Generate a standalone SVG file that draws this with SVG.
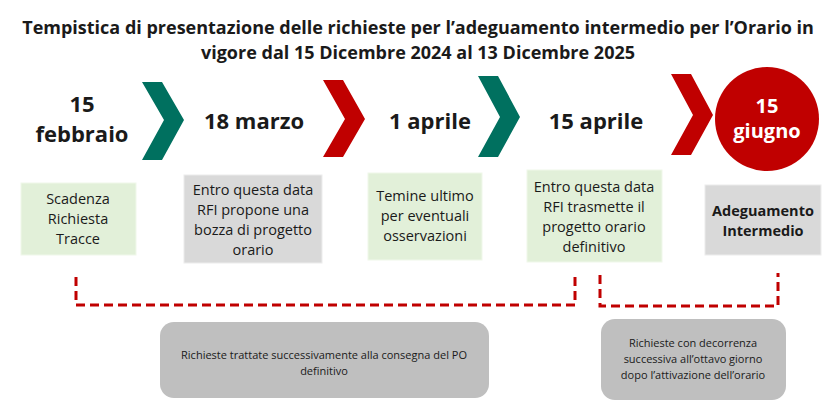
<svg xmlns="http://www.w3.org/2000/svg" width="836" height="403" viewBox="0 0 836 403">
<style>
text{font-family:"Open Sans","Liberation Sans",sans-serif;fill:#1a1a1a;text-anchor:middle}
.t{font-size:18px;font-weight:bold}
.d{font-size:22px;font-weight:bold}
.b{font-size:14.5px}
.s{font-size:11px}
.g{fill:#e2f0d9;stroke:#f0f8ea;stroke-width:1}
.y{fill:#d9d9d9;stroke:#ececec;stroke-width:1}
.r{fill:#bfbfbf}
.dash{fill:none;stroke:#c00000;stroke-width:3;stroke-dasharray:9,5}
</style>
<rect width="836" height="403" fill="#fff"/>
<g id="title"><text class="t" x="418" y="34">Tempistica di presentazione delle richieste per l’adeguamento intermedio per l’Orario in</text><text class="t" x="418" y="59">vigore dal 15 Dicembre 2024 al 13 Dicembre 2025</text></g>
<g id="chevrons">
<polygon points="142,82 162,82 184,120 162,160 142,160 164,120" fill="#00705f"/>
<polygon points="323,80 343,80 365,119 343,157 323,157 345,119" fill="#c00000"/>
<polygon points="478,76 498,76 520,117 498,157 478,157 500,117" fill="#00705f"/>
<polygon points="671,74 691,74 713,115 691,155 671,155 693,115" fill="#c00000"/>
</g>
<g id="dates">
<text class="d" x="82" y="112">15</text><text class="d" x="82" y="142">febbraio</text>
<text class="d" x="254" y="129">18 marzo</text>
<text class="d" x="430" y="129">1 aprile</text>
<text class="d" x="596" y="129">15 aprile</text>
</g>
<g id="circle"><circle cx="767" cy="119" r="52" fill="#c00000"/><text class="d" x="767" y="113" style="fill:#fff;font-size:20px">15</text><text class="d" x="767" y="138" style="fill:#fff;font-size:20px">giugno</text></g>
<g id="box1"><rect class="g" x="21" y="183" width="115" height="72"/><text class="b" x="78" y="204">Scadenza</text><text class="b" x="78" y="224">Richiesta</text><text class="b" x="78" y="244">Tracce</text></g>
<g id="box2"><rect class="y" x="184" y="175" width="138" height="88"/><text class="b" x="253" y="195">Entro questa data</text><text class="b" x="253" y="215">RFI propone una</text><text class="b" x="253" y="235">bozza di progetto</text><text class="b" x="253" y="255">orario</text></g>
<g id="box3"><rect class="g" x="368" y="173" width="114" height="87"/><text class="b" x="425" y="201">Temine ultimo</text><text class="b" x="425" y="221">per eventuali</text><text class="b" x="425" y="241">osservazioni</text></g>
<g id="box4"><rect class="g" x="527" y="170" width="135" height="92"/><text class="b" x="594" y="192">Entro questa data</text><text class="b" x="594" y="212">RFI trasmette il</text><text class="b" x="594" y="232">progetto orario</text><text class="b" x="594" y="252">definitivo</text></g>
<g id="box5"><rect class="y" x="705" y="185" width="116" height="70"/><text class="b" x="763" y="216" style="font-weight:bold">Adeguamento</text><text class="b" x="763" y="236" style="font-weight:bold">Intermedio</text></g>
<g id="connectors">
<polyline class="dash" points="76,277 76,305 575,305 575,276"/>
<polyline class="dash" points="600,275 600,306 778,306 778,273"/>
</g>
<g id="note1"><rect class="r" x="160" y="322" width="329" height="76" rx="14"/><text class="s" x="324" y="359">Richieste trattate successivamente  alla consegna del PO</text><text class="s" x="324" y="375">definitivo</text></g>
<g id="note2"><rect class="r" x="601" y="319" width="185" height="81" rx="14"/><text class="s" x="693" y="347">Richieste con decorrenza</text><text class="s" x="693" y="363">successiva all’ottavo giorno</text><text class="s" x="693" y="379">dopo l’attivazione dell’orario</text></g>
</svg>
